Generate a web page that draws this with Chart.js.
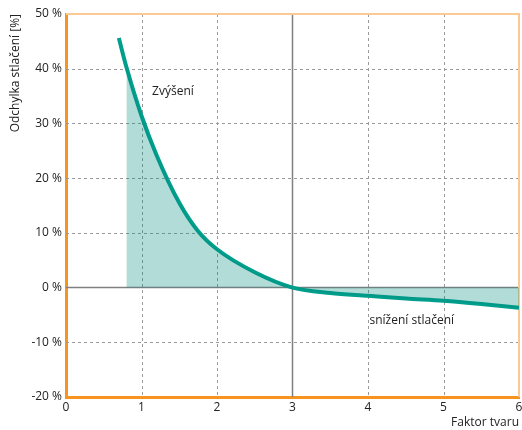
<!DOCTYPE html>
<html>
<head>
<meta charset="utf-8">
<script src="https://cdn.jsdelivr.net/npm/chart.js@4/dist/chart.umd.min.js"></script>
<style>
  html, body { margin: 0; padding: 0; background: #fff; }
  #wrap { width: 522px; height: 430px; }
</style>
</head>
<body>
<div id="wrap"><canvas id="chart"></canvas></div>
<script>
// shape factor vs. compression deviation (%)
const shapeFactor = [0.7, 0.8, 1.0, 1.2, 1.5, 1.75, 2.0, 2.5, 3.0, 3.5, 4.0, 4.5, 5.0, 5.5, 6.0];
const deviation = [45.6, 40.3, 31.4, 24.2, 15.5, 10.3, 7.0, 2.8, 0, -1.0, -1.5, -2.0, -2.4, -3.0, -3.7];
const fillFrom = 0.8;
const xTicks = [0, 1, 2, 3, 4, 5, 6];
const yTicks = [-20, -10, 0, 10, 20, 30, 40, 50];
const notes = [
  { text: 'Zvýšení', x: 1.14, y: 35.9 },
  { text: 'snížení stlačení', x: 4.02, y: -6.0 }
];

const FONT = "'Open Sans', 'DejaVu Sans', sans-serif";
const ORANGE = '#f7941d';

const curve = shapeFactor.map((x, i) => ({ x: x, y: deviation[i] }));
const shaded = curve.filter(p => p.x >= fillFrom);

const overlay = {
  id: 'overlay',
  beforeDatasetsDraw(chart) {
    const { ctx, chartArea: a, scales: { x, y } } = chart;
    ctx.save();
    ctx.setLineDash([3, 3]);
    ctx.strokeStyle = '#9a9a9a';
    ctx.lineWidth = 1;
    xTicks.forEach(v => {
      if (v === 0 || v === 3 || v === 6) return;
      const px = Math.round(x.getPixelForValue(v)) + 0.5;
      ctx.beginPath(); ctx.moveTo(px, a.top); ctx.lineTo(px, a.bottom); ctx.stroke();
    });
    yTicks.forEach(v => {
      if (v === 0 || v === 50 || v === -20) return;
      const py = Math.round(y.getPixelForValue(v)) + 0.5;
      ctx.beginPath(); ctx.moveTo(a.left, py); ctx.lineTo(a.right, py); ctx.stroke();
    });
    ctx.setLineDash([]);
    ctx.strokeStyle = '#808080';
    ctx.lineWidth = 1.5;
    const x3 = x.getPixelForValue(3);
    ctx.beginPath(); ctx.moveTo(x3, a.top); ctx.lineTo(x3, a.bottom); ctx.stroke();
    const y0 = y.getPixelForValue(0);
    ctx.beginPath(); ctx.moveTo(a.left, y0); ctx.lineTo(a.right, y0); ctx.stroke();
    // light frame top / right
    ctx.strokeStyle = '#fbc995';
    ctx.lineWidth = 2;
    ctx.beginPath();
    ctx.moveTo(a.left, a.top); ctx.lineTo(a.right, a.top); ctx.lineTo(a.right, a.bottom);
    ctx.stroke();
    ctx.restore();
  },
  afterDatasetsDraw(chart) {
    const { ctx, scales: { x, y } } = chart;
    ctx.save();
    ctx.font = '12px ' + FONT;
    ctx.fillStyle = '#222';
    ctx.textBaseline = 'middle';
    notes.forEach(n => ctx.fillText(n.text, x.getPixelForValue(n.x), y.getPixelForValue(n.y)));
    ctx.restore();
  }
};

new Chart(document.getElementById('chart'), {
  type: 'scatter',
  data: {
    datasets: [
      {
        data: shaded,
        showLine: true,
        borderWidth: 0,
        borderColor: 'rgba(0,0,0,0)',
        backgroundColor: 'rgba(0,140,125,0.3)',
        fill: { value: 0 },
        pointRadius: 0,
        cubicInterpolationMode: 'monotone'
      },
      {
        data: curve,
        showLine: true,
        borderColor: '#009e8c',
        borderWidth: 4,
        fill: false,
        pointRadius: 0,
        cubicInterpolationMode: 'monotone'
      }
    ]
  },
  plugins: [overlay],
  options: {
    responsive: true,
    maintainAspectRatio: false,
    animation: false,
    layout: { padding: { top: 14, right: 0, left: 0, bottom: 0 } },
    plugins: { legend: { display: false }, tooltip: { enabled: false } },
    scales: {
      x: {
        type: 'linear',
        min: 0,
        max: 6,
        afterBuildTicks: s => { s.ticks = xTicks.map(v => ({ value: v })); },
        afterFit: s => { s.height = 33; s.paddingRight = 3; s.paddingLeft = 0; },
        grid: { display: false, drawTicks: false, tickLength: 0 },
        border: { display: true, color: ORANGE, width: 3 },
        ticks: { color: '#222', font: { family: FONT, size: 12 }, padding: 3, maxRotation: 0 },
        title: { display: true, text: 'Faktor tvaru', align: 'end', color: '#222', font: { family: FONT, size: 12 }, padding: { top: 0, bottom: 0 } }
      },
      y: {
        min: -20,
        max: 50,
        afterBuildTicks: s => { s.ticks = yTicks.map(v => ({ value: v })); },
        afterFit: s => { s.width = 66; },
        grid: { display: false, drawTicks: false, tickLength: 0 },
        border: { display: true, color: ORANGE, width: 3 },
        ticks: { color: '#222', font: { family: FONT, size: 12 }, padding: 4, callback: v => v + ' %' },
        title: { display: true, text: 'Odchylka stlačení [%]', align: 'end', color: '#222', font: { family: FONT, size: 12 }, padding: { top: 8, bottom: 0 } }
      }
    }
  }
});
</script>
</body>
</html>
